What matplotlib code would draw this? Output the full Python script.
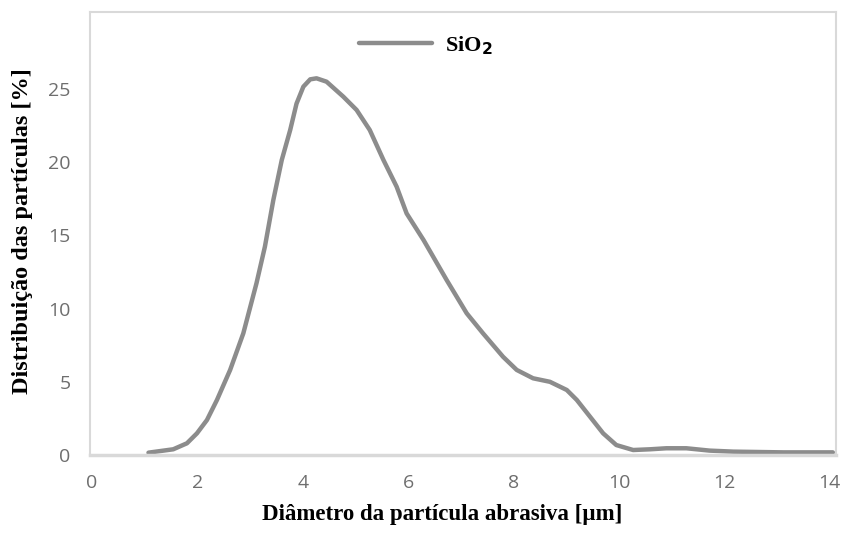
import matplotlib
matplotlib.use('Agg')
import matplotlib.pyplot as plt

# valores (diâmetro em µm, distribuição em %)
diametro = [1.07, 1.54, 1.80, 1.99, 2.18, 2.37, 2.62, 2.87, 3.12, 3.28, 3.44, 3.60,
            3.76, 3.88, 4.01, 4.14, 4.26, 4.45, 4.77, 5.02, 5.27, 5.53, 5.78, 5.97,
            6.29, 6.73, 7.11, 7.42, 7.80, 8.06, 8.37, 8.69, 9.01, 9.20, 9.45, 9.70,
            9.95, 10.27, 10.59, 10.90, 11.28, 11.72, 12.17, 13.12, 14.06]
distribuicao = [0.16, 0.39, 0.80, 1.48, 2.39, 3.76, 5.81, 8.31, 11.73, 14.23, 17.42, 20.15,
                22.2, 24.0, 25.16, 25.66, 25.73, 25.5, 24.47, 23.57, 22.2, 20.15, 18.33, 16.5,
                14.69, 11.95, 9.68, 8.31, 6.71, 5.81, 5.24, 5.0, 4.44, 3.76, 2.62, 1.48,
                0.68, 0.34, 0.39, 0.46, 0.46, 0.30, 0.23, 0.18, 0.18]

xticks = [0, 2, 4, 6, 8, 10, 12, 14]
yticks = [0, 5, 10, 15, 20, 25]

fig = plt.figure(figsize=(8.48, 5.33), dpi=100)
ax = fig.add_axes([90 / 848, 78 / 533, 746 / 848, 443 / 533])

ax.plot(diametro, distribuicao, color='#8c8c8c', lw=3.2, solid_capstyle='round',
        solid_joinstyle='round', label='SiO$_\\mathbf{2}$')

ax.set_xlim(-0.04, 14.12)
ax.set_ylim(0, 30.26)
ax.set_xticks(xticks)
ax.set_yticks(yticks)

tick_font = dict(family='Open Sans', size=14, color='#6e6e6e')
ax.set_xticklabels([str(t) for t in xticks], **tick_font)
ax.set_yticklabels([str(t) for t in yticks], **tick_font)
ax.tick_params(axis='both', length=0)
ax.tick_params(axis='x', pad=14)
ax.tick_params(axis='y', pad=14)

for lado in ['left', 'top', 'right']:
    ax.spines[lado].set_color('#d9d9d9')
    ax.spines[lado].set_linewidth(1.5)
ax.spines['bottom'].set_color('#d9d9d9')
ax.spines['bottom'].set_linewidth(2.5)

ax.set_xlabel('Diâmetro da partícula abrasiva [µm]', family='Liberation Serif',
              fontsize=16.5, fontweight='bold')
ax.set_ylabel('Distribuição das partículas [%]', family='Liberation Serif',
              fontsize=17.5, fontweight='bold')
ax.xaxis.set_label_coords(0.472, -0.135)
ax.yaxis.set_label_coords(-0.091, 0.506)
ax.xaxis.label.set_va('center')
ax.yaxis.label.set_va('center')

leg = ax.legend(loc='upper center', bbox_to_anchor=(0.45, 0.995), frameon=False,
                handlelength=3.3, handletextpad=0.6,
                prop=dict(family='Liberation Serif', size=16, weight='bold'))

fig.savefig('out.png', dpi=100, facecolor='white')
